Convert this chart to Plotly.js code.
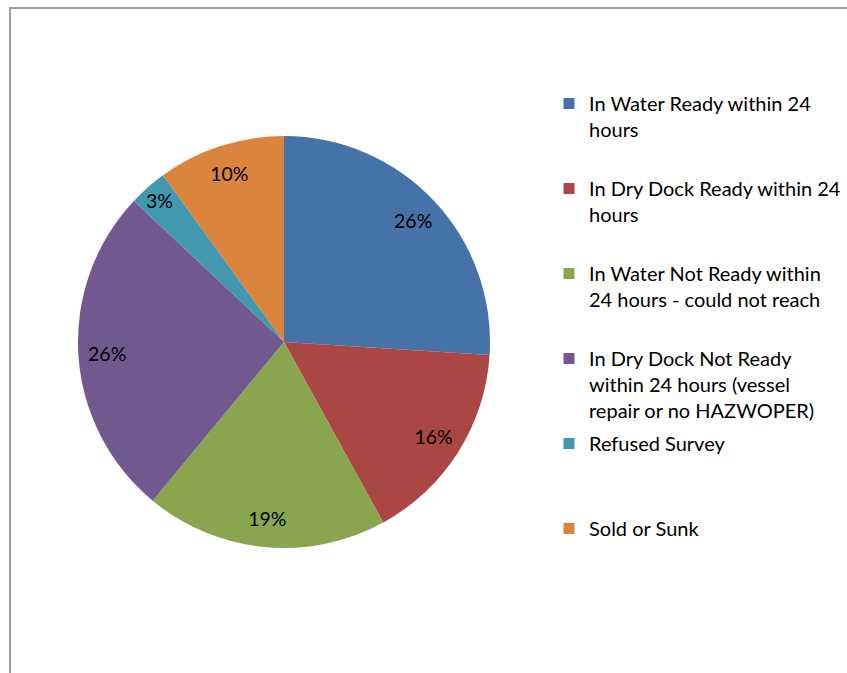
<!DOCTYPE html>
<html>
<head>
<meta charset="utf-8">
<script src="https://cdn.plot.ly/plotly-3.0.1.min.js"></script>
<style>
  html, body { margin: 0; padding: 0; background: #ffffff; }
  #chart { width: 847px; height: 673px; }
</style>
</head>
<body>
<div id="chart"></div>
<script>
// ---- data ----
const categories = [
  "In Water Ready within 24 hours",
  "In Dry Dock Ready within 24 hours",
  "In Water Not Ready within 24 hours - could not reach",
  "In Dry Dock Not Ready within 24 hours (vessel repair or no HAZWOPER)",
  "Refused Survey",
  "Sold or Sunk"
];
const legendLabels = [
  "In Water Ready within 24<br>hours",
  "In Dry Dock Ready within 24<br>hours",
  "In Water Not Ready within<br>24 hours - could not reach",
  "In Dry Dock Not Ready<br>within 24 hours (vessel<br>repair or no HAZWOPER)",
  "Refused Survey",
  "Sold or Sunk"
];
const percentValues = [26, 16, 19, 26, 3, 10];
const sliceColors = ["#4572A7", "#AA4643", "#89A54E", "#71588F", "#4198AF", "#DB843D"];

const FONT = "Lato, 'Open Sans', sans-serif";
const W = 847, H = 673;
const cx = 284, cy = 342, r = 206;
const pieDomain = {
  x: [(cx - r) / W, (cx + r) / W],
  y: [(H - cy - r) / H, (H - cy + r) / H]
};

// pad legend entries to equal number of lines so entries are evenly spaced
const LINES = 3;
const paddedLabels = legendLabels.map(l => {
  let s = l;
  for (let i = l.split("<br>").length; i < LINES; i++) s += "<br>\u00a0";
  return s;
});

// the pie itself
const pieTrace = {
  type: "pie",
  labels: categories,
  values: percentValues,
  sort: false,
  direction: "clockwise",
  rotation: 0,
  marker: { colors: sliceColors, line: { width: 0 } },
  textinfo: "none",
  domain: pieDomain,
  showlegend: false,
  hoverinfo: "label+percent"
};

// transparent ring on top, only to place the percent labels near the rim
const labelRing = {
  type: "pie",
  labels: categories,
  values: percentValues,
  sort: false,
  direction: "clockwise",
  rotation: 0,
  hole: 0.72,
  marker: { colors: sliceColors.map(() => "rgba(0,0,0,0)"), line: { width: 0 } },
  textinfo: "percent",
  texttemplate: "%{percent:.0%}",
  textposition: "inside",
  insidetextorientation: "horizontal",
  textfont: { family: FONT, size: 19.5, color: "#000000" },
  domain: pieDomain,
  showlegend: false,
  hoverinfo: "skip"
};

// legend entries (one per category, evenly spaced)
const legendTraces = categories.map((c, i) => ({
  type: "scatter",
  mode: "markers",
  x: [null],
  y: [null],
  name: paddedLabels[i],
  legendgroup: "g" + i,
  marker: { symbol: "square", size: 11, color: sliceColors[i] },
  showlegend: true,
  hoverinfo: "skip"
}));

const layout = {
  width: W,
  height: H,
  margin: { l: 0, r: 0, t: 0, b: 0 },
  paper_bgcolor: "#ffffff",
  plot_bgcolor: "rgba(0,0,0,0)",
  xaxis: { visible: false, domain: [0.999, 1] },
  yaxis: { visible: false, domain: [0.999, 1] },
  showlegend: true,
  uniformtext: { mode: "show", minsize: 19.5 },
  legend: {
    x: 549 / W,
    xanchor: "left",
    y: 1 - 84 / H,
    yanchor: "top",
    valign: "top",
    tracegroupgap: 4,
    traceorder: "grouped",
    font: { family: FONT, size: 20, color: "#000000" },
    bgcolor: "rgba(0,0,0,0)"
  },
  shapes: [{
    type: "rect",
    xref: "paper", yref: "paper",
    x0: 10 / W, x1: 1.05,
    y0: -0.05, y1: 1 - 8 / H,
    line: { color: "#a0a0a0", width: 2 },
    fillcolor: "rgba(0,0,0,0)",
    layer: "below"
  }]
};

Plotly.newPlot("chart", [pieTrace, labelRing, ...legendTraces], layout, { displayModeBar: false, staticPlot: true });
</script>
</body>
</html>
